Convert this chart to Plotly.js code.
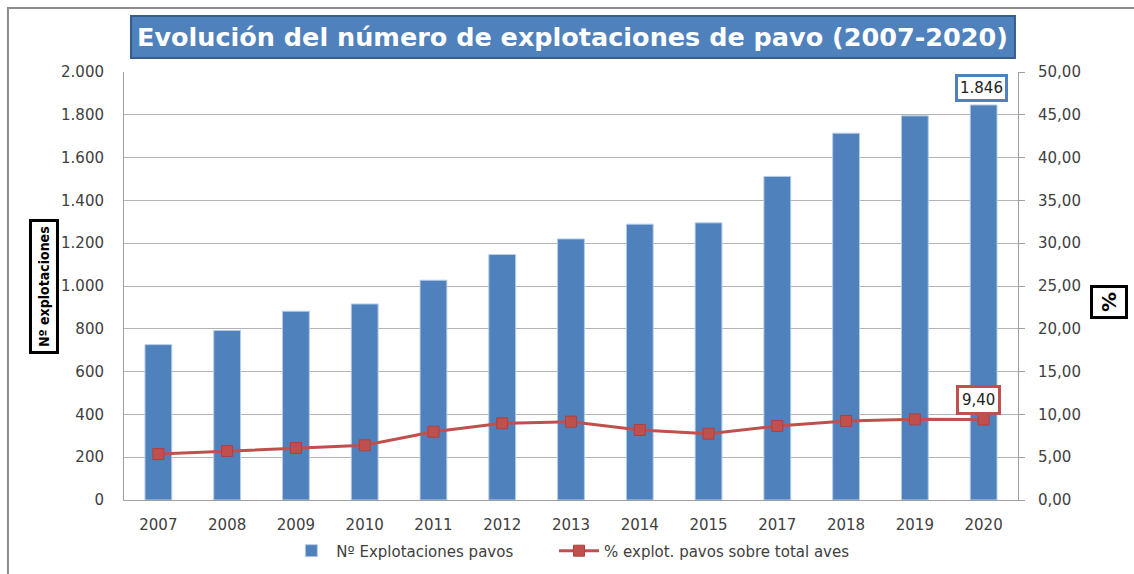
<!DOCTYPE html>
<html>
<head>
<meta charset="utf-8">
<script src="https://cdn.plot.ly/plotly-3.0.1.min.js"></script>
<style>
html,body{margin:0;padding:0;background:#fff;}
#chart{width:1134px;height:574px;}
</style>
</head>
<body>
<div id="chart"></div>
<script>
// ---- data ----
const years = ["2007","2008","2009","2010","2011","2012","2013","2014","2015","2017","2018","2019","2020"];
const explotaciones = [726, 792, 882, 916, 1027, 1147, 1220, 1289, 1295, 1512, 1714, 1795, 1846];
const porcentaje = [5.37, 5.72, 6.07, 6.39, 7.98, 8.96, 9.15, 8.18, 7.75, 8.64, 9.23, 9.42, 9.40];
const leftTickVals = [0,200,400,600,800,1000,1200,1400,1600,1800,2000];
const leftTickText = ["0","200","400","600","800","1.000","1.200","1.400","1.600","1.800","2.000"];
const rightTickVals = [0,5,10,15,20,25,30,35,40,45,50];
const rightTickText = ["0,00","5,00","10,00","15,00","20,00","25,00","30,00","35,00","40,00","45,00","50,00"];
const titleText = "Evolución del número de explotaciones de pavo (2007-2020)";
const barName = "Nº Explotaciones pavos";
const lineName = "% explot. pavos sobre total aves";
const leftAxisTitle = "Nº explotaciones";
const rightAxisTitle = "%";
const lastBarLabel = "1.846";
const lastLineLabel = "9,40";

const lastIdx = years.length - 1;
const tickFont = {family: "DejaVu Sans", size: 15, color: "#404040"};
const legendFont = {family: "DejaVu Sans", size: 15, color: "#404040"};

const traces = [
  {
    type: "bar", x: years, y: explotaciones, name: barName,
    marker: {color: "#4F81BD", line: {color: "#B8CCE4", width: 1}},
    yaxis: "y", legend: "legend"
  },
  {
    type: "scatter", mode: "lines+markers", x: years, y: porcentaje, name: lineName,
    line: {color: "#C0504D", width: 3},
    marker: {symbol: "square", size: 11, color: "#C0504D", line: {color: "#B0403D", width: 1}},
    yaxis: "y2", legend: "legend2"
  }
];

const layout = {
  width: 1134, height: 574,
  margin: {l: 124, r: 116, t: 72, b: 74, autoexpand: false},
  paper_bgcolor: "#fff", plot_bgcolor: "#fff",
  showlegend: true,
  bargap: 0.61,
  xaxis: {
    type: "category", range: [-0.5, lastIdx + 0.5], tickfont: tickFont, showline: true, linecolor: "#A0A0A0", linewidth: 1,
    ticks: "", showgrid: false, ticklabelstandoff: 11, automargin: false
  },
  yaxis: {
    range: [0, 2000], tickvals: leftTickVals, ticktext: leftTickText, tickfont: tickFont,
    showline: true, linecolor: "#A0A0A0", linewidth: 1, showgrid: true, gridcolor: "#B4B4B4", gridwidth: 1,
    ticks: "", ticklabelstandoff: 16, zeroline: false, automargin: false
  },
  yaxis2: {
    overlaying: "y", side: "right", range: [0, 50], tickvals: rightTickVals, ticktext: rightTickText,
    tickfont: tickFont, showline: true, linecolor: "#A0A0A0", linewidth: 1, showgrid: false,
    ticks: "outside", ticklen: 6, tickcolor: "#A0A0A0", ticklabelstandoff: 10, zeroline: false, automargin: false
  },
  legend: {
    orientation: "h", x: 0.1816, xanchor: "left", y: -0.119, yanchor: "middle",
    font: legendFont, itemwidth: 40, bgcolor: "rgba(0,0,0,0)"
  },
  legend2: {
    orientation: "h", x: 0.481, xanchor: "left", y: -0.119, yanchor: "middle",
    font: legendFont, itemwidth: 40, bgcolor: "rgba(0,0,0,0)"
  },
  shapes: [
    {type: "rect", xref: "paper", yref: "paper", x0: -0.1298, x1: 1.3, y0: -0.4, y1: 1.1495,
     line: {color: "#8C8C8C", width: 2}, fillcolor: "rgba(0,0,0,0)", layer: "below"},
    {type: "rect", xref: "paper", yref: "paper", x0: 0.0078, x1: 0.9966, y0: 1.0327, y1: 1.1308,
     line: {color: "#385D8A", width: 2}, fillcolor: "#4F81BD"}
  ],
  annotations: [
    {text: titleText, xref: "paper", yref: "paper", x: 0.5022, y: 1.0818, xanchor: "center", yanchor: "middle",
     showarrow: false, font: {family: "DejaVu Sans", size: 25.5, color: "#ffffff", weight: "bold"}},
    {text: "<b>" + leftAxisTitle + "</b>", xref: "paper", yref: "paper", x: -0.0895, y: 0.5, textangle: -90,
     xanchor: "center", yanchor: "middle", showarrow: false,
     font: {family: "DejaVu Sans Condensed, Liberation Sans", size: 14, color: "#000"},
     bgcolor: "#fff", bordercolor: "#000", borderwidth: 3, borderpad: 4},
    {text: "<b>" + rightAxisTitle + "</b>", xref: "paper", yref: "paper", x: 1.1018, y: 0.4626, textangle: -90,
     xanchor: "center", yanchor: "middle", showarrow: false,
     font: {family: "DejaVu Sans", size: 20, color: "#000"},
     bgcolor: "#fff", bordercolor: "#000", borderwidth: 3, borderpad: 4},
    {text: lastBarLabel, xref: "x", yref: "y", x: lastIdx, y: explotaciones[lastIdx],
     xanchor: "center", yanchor: "bottom", yshift: 3, xshift: -2, showarrow: false,
     font: {family: "DejaVu Sans", size: 15, color: "#222"},
     bgcolor: "#fff", bordercolor: "#4F81BD", borderwidth: 3, borderpad: 2},
    {text: lastLineLabel, xref: "x", yref: "y2", x: lastIdx, y: porcentaje[lastIdx],
     xanchor: "center", yanchor: "bottom", yshift: 5, xshift: -5, showarrow: false,
     font: {family: "DejaVu Sans", size: 15, color: "#222"},
     bgcolor: "#fff", bordercolor: "#C0504D", borderwidth: 3, borderpad: 3}
  ]
};

Plotly.newPlot("chart", traces, layout, {displayModeBar: false, staticPlot: true});
</script>
</body>
</html>
